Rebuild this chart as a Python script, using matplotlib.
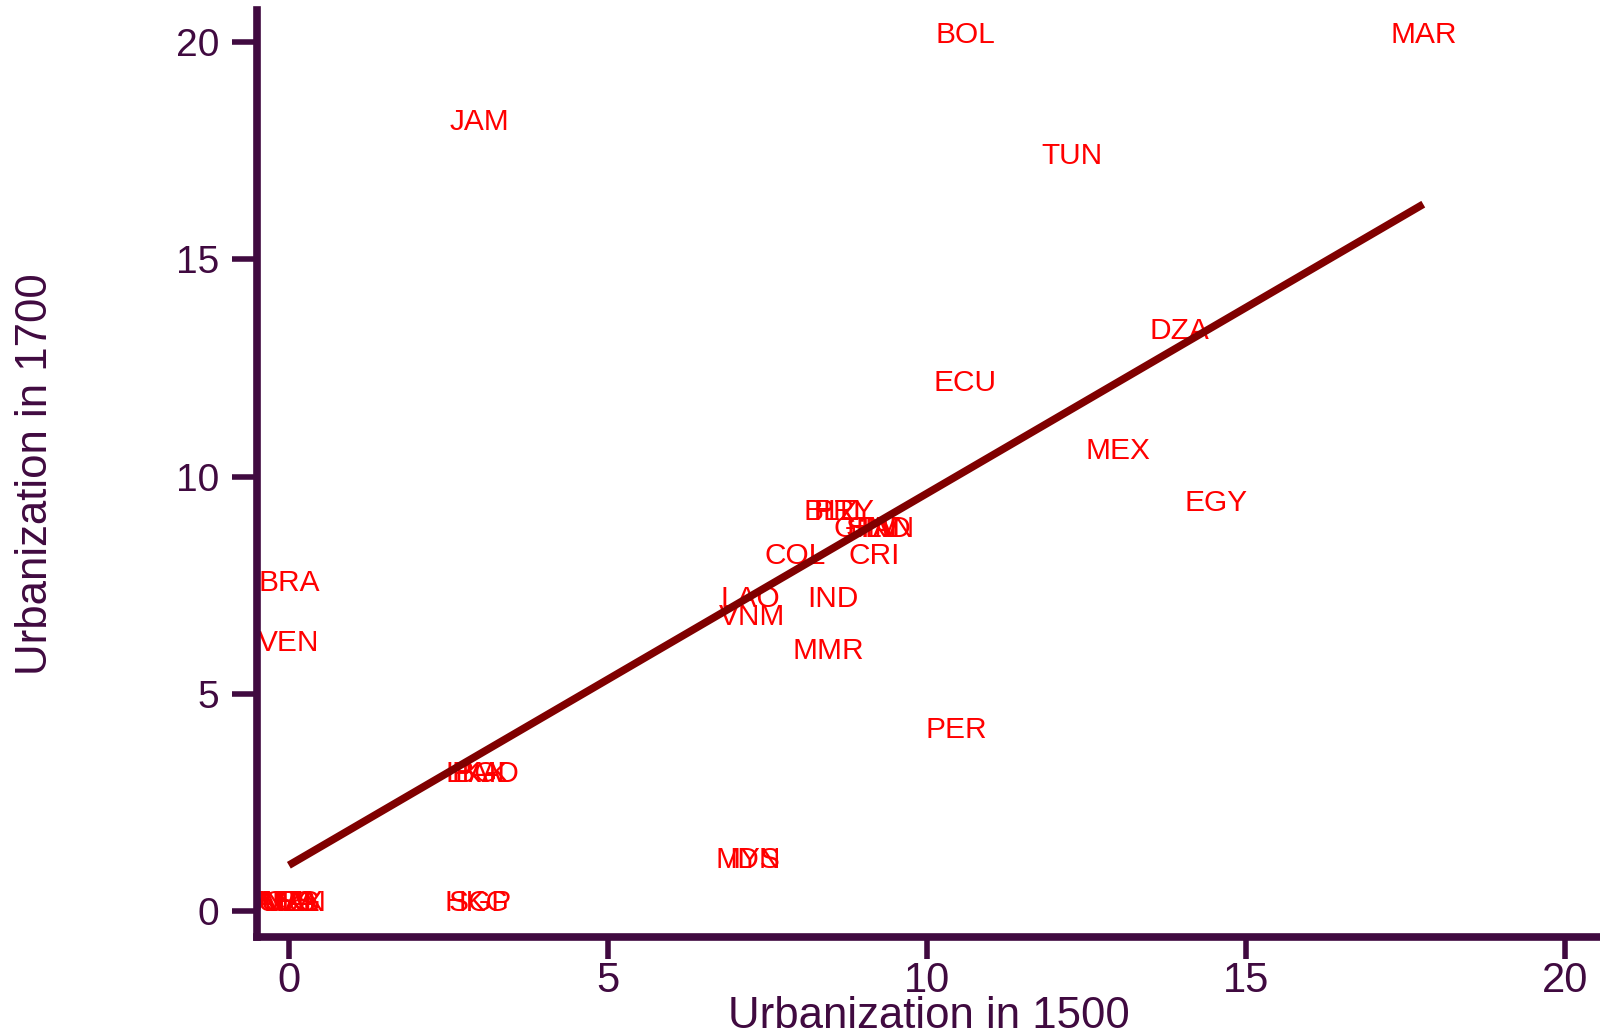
import matplotlib
matplotlib.use("Agg")
import matplotlib.pyplot as plt

# country labels and values (urbanization %, 1500 vs 1700)
codes = ["BOL", "MAR", "JAM", "TUN", "DZA", "ECU", "MEX", "EGY", "PER",
         "COL", "CRI", "IND", "LAO", "VNM", "MMR", "BRA", "VEN",
         "MYS", "IDN", "HKG", "SGP",
         "LKA", "PAK", "BGD",
         "BLZ", "HTI", "PRY",
         "GTM", "SLV", "HND", "PAN",
         "AUS", "ARG", "NZL", "CAN", "USA", "URY"]
urb1500 = [10.6, 17.78, 2.98, 12.27, 13.95, 10.6, 12.99, 14.54, 10.46,
           7.94, 9.18, 8.53, 7.23, 7.26, 8.46, 0.0, 0.0,
           7.2, 7.3, 2.95, 3.0,
           2.9, 3.0, 3.1,
           8.5, 8.6, 8.7,
           9.05, 9.15, 9.25, 9.35,
           -0.05, 0.0, 0.05, 0.1, 0.0, 0.05]
urb1700 = [20.16, 20.16, 18.17, 17.37, 13.36, 12.16, 10.59, 9.39, 4.18,
           8.17, 8.17, 7.18, 7.18, 6.78, 5.99, 7.56, 6.18,
           1.17, 1.17, 0.19, 0.19,
           3.17, 3.17, 3.17,
           9.18, 9.18, 9.18,
           8.8, 8.8, 8.8, 8.8,
           0.19, 0.19, 0.19, 0.19, 0.19, 0.19]

# fitted line endpoints
fit_x = [0.0, 17.78]
fit_y = [1.06, 16.27]

AXCOL = "#400a40"
plt.rcParams["font.family"] = ["Liberation Sans", "DejaVu Sans"]

fig = plt.figure(figsize=(16, 10.36), dpi=100)
ax = fig.add_axes([0.1606, 0.0956, 0.8394, 0.8944])

ax.plot(fit_x, fit_y, color="#800000", lw=5.5, solid_capstyle="butt", zorder=3)
for c, x, y in zip(codes, urb1500, urb1700):
    ax.text(x, y, c, color="#ff0000", fontsize=21.5, ha="center", va="center", zorder=2)

ax.set_xlim(-0.5, 20.55)
ax.set_ylim(-0.59, 20.73)
ax.set_xticks([0, 5, 10, 15, 20])
ax.set_yticks([0, 5, 10, 15, 20])
ax.spines[["top", "right"]].set_visible(False)
for s in ["left", "bottom"]:
    ax.spines[s].set_linewidth(5.5)
    ax.spines[s].set_color(AXCOL)
ax.tick_params(axis="x", length=16, width=4, color=AXCOL, labelcolor=AXCOL,
               labelsize=30, pad=1)
ax.tick_params(axis="y", length=18, width=4, color=AXCOL, labelcolor=AXCOL,
               labelsize=28, pad=9)
ax.set_xlabel("Urbanization in 1500", fontsize=31.5, color=AXCOL, va="center")
ax.xaxis.set_label_coords(0.5, -0.086)
ax.set_ylabel("Urbanization in 1700", fontsize=31.5, color=AXCOL, va="center")
ax.yaxis.set_label_coords(-0.165, 0.5)

fig.savefig("out.png", dpi=100)
